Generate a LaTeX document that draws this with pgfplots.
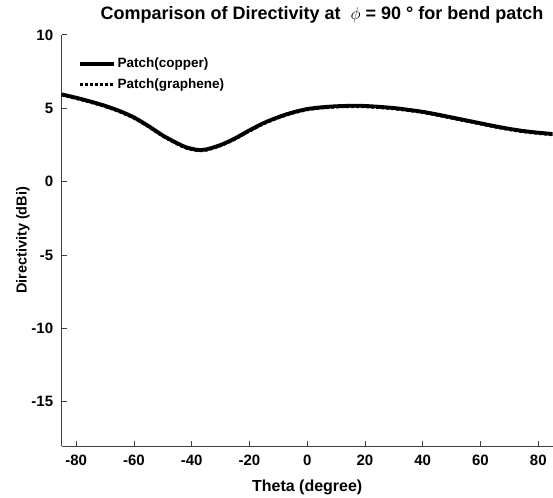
\documentclass[border=0pt]{standalone}
\usepackage{pgfplots}
\pgfplotsset{compat=1.18}
\usepackage{fontspec}
\setmainfont{Liberation Sans}

% Directivity cut at phi = 90 deg (dBi) versus theta (degree)
\pgfplotstableread{
theta  copper
-85    5.95
-80    5.72
-75    5.46
-70    5.17
-65    4.82
-60    4.38
-55    3.80
-50    3.15
-45    2.62
-42    2.35
-38    2.17
-35    2.20
-30    2.50
-25    2.95
-20    3.50
-15    4.00
-10    4.40
-5     4.72
0      4.95
5      5.07
10     5.14
15     5.17
20     5.16
25     5.10
30     5.02
35     4.90
40     4.76
45     4.58
50     4.38
55     4.18
60     3.98
65     3.78
70     3.60
75     3.45
80     3.34
85     3.25
}\copper

\pgfplotstableread{
theta  graphene
-85    5.90
-80    5.67
-75    5.41
-70    5.12
-65    4.77
-60    4.33
-55    3.75
-50    3.10
-45    2.57
-42    2.30
-38    2.12
-35    2.15
-30    2.45
-25    2.90
-20    3.45
-15    3.95
-10    4.35
-5     4.67
0      4.90
5      5.02
10     5.09
15     5.12
20     5.11
25     5.05
30     4.97
35     4.85
40     4.71
45     4.53
50     4.33
55     4.13
60     3.93
65     3.73
70     3.55
75     3.40
80     3.29
85     3.20
}\graphene

\begin{document}
\begin{tikzpicture}
\useasboundingbox (-61.7pt,-51.3pt) rectangle (491.3pt,445.9pt);
\begin{axis}[
  scale only axis,
  width=491pt, height=411pt,
  xmin=-85, xmax=85, ymin=-18, ymax=10,
  xtick={-80,-60,...,80},
  ytick={-15,-10,...,10},
  axis x line=bottom, axis y line=left,
  axis line style={-, black!75, line width=0.8pt},
  tick align=inside,
  major tick length=5pt,
  tick style={black!75, line width=0.8pt},
  /pgf/number format/assume math mode=true,
  ticklabel style={font=\bfseries\fontsize{15}{17}\selectfont},
  xticklabel style={yshift=-6pt},
  yticklabel style={xshift=-5pt},
  xlabel={\bfseries Theta (degree)},
  ylabel={\bfseries Directivity (dBi)},
  xlabel style={font=\fontsize{16}{18}\selectfont, yshift=-7pt},
  ylabel style={font=\fontsize{14.5}{17}\selectfont, yshift=-5pt},
  title={\bfseries Comparison of Directivity at\ \ $\phi$ = 90 ° for bend patch},
  title style={font=\fontsize{18}{21}\selectfont, at={(rel axis cs:0.530,1)}, anchor=base, yshift=9pt},
  legend style={draw=none, fill=none, at={(rel axis cs:0,1)}, anchor=north west,
    xshift=13pt, yshift=-19pt, font=\bfseries\fontsize{13.5}{15}\selectfont,
    row sep=5pt},
  legend cell align=left,
  legend image code/.code={\draw[#1] (0pt,0pt) -- (34pt,0pt);},
]
\addplot[black, line width=3.8pt, smooth] table[x=theta, y=copper] {\copper};
\addlegendentry{Patch(copper)}
\addplot[black, line width=3.0pt, dotted, smooth] table[x=theta, y=graphene] {\graphene};
\addlegendentry{Patch(graphene)}
\end{axis}
\end{tikzpicture}
\end{document}
